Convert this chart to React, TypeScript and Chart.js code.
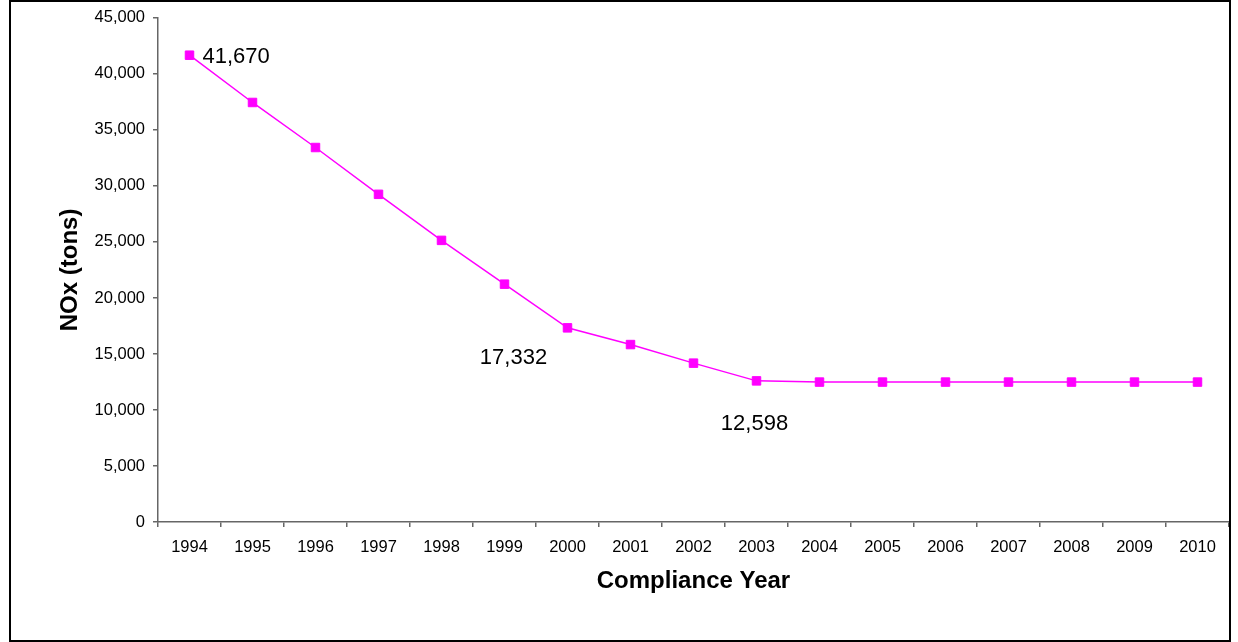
import React, { useEffect, useRef } from "react";
import { Chart, registerables } from "chart.js";

Chart.register(...registerables);

const years: string[] = ["1994", "1995", "1996", "1997", "1998", "1999", "2000", "2001", "2002", "2003", "2004", "2005", "2006", "2007", "2008", "2009", "2010"];
const noxTons: number[] = [41670, 37450, 33430, 29250, 25140, 21230, 17332, 15840, 14180, 12598, 12490, 12490, 12490, 12490, 12490, 12490, 12490];
const yTickValues: number[] = [0, 5000, 10000, 15000, 20000, 25000, 30000, 35000, 40000, 45000];
const labelledIndices: number[] = [0, 6, 9];

const FONT = "'Liberation Sans', Arial, sans-serif";
const LINE_COLOR = "#FF00FF";
const AXIS_COLOR = "#666666";

// label placement relative to the point (style only)
const labelPlacement: Record<number, { dx: number; dy: number; align: CanvasTextAlign }> = {
  0: { dx: 13, dy: 2, align: "left" },
  6: { dx: -54, dy: 30, align: "center" },
  9: { dx: -2, dy: 43, align: "center" },
};

const fmt = (v: number) => v.toLocaleString("en-US");

const labelPlugin = {
  id: "pointLabels",
  afterDatasetsDraw(chart: any) {
    const meta = chart.getDatasetMeta(0);
    const ctx = chart.ctx as CanvasRenderingContext2D;
    ctx.save();
    ctx.fillStyle = "#000";
    ctx.font = `22px ${FONT}`;
    ctx.textBaseline = "middle";
    labelledIndices.forEach((i) => {
      const pt = meta.data[i];
      const p = labelPlacement[i];
      ctx.textAlign = p.align;
      ctx.fillText(fmt(noxTons[i]), pt.x + p.dx, pt.y + p.dy);
    });
    ctx.restore();
  },
};

const framePlugin = {
  id: "frame",
  afterDraw(chart: any) {
    const ctx = chart.ctx as CanvasRenderingContext2D;
    ctx.save();
    ctx.strokeStyle = "#000";
    ctx.lineWidth = 2;
    ctx.strokeRect(10, 1, 1220, 640);
    ctx.restore();
  },
};

export default function App() {
  const canvasRef = useRef<HTMLCanvasElement | null>(null);

  useEffect(() => {
    if (!canvasRef.current) return;
    const chart = new Chart(canvasRef.current, {
      type: "line",
      data: {
        labels: years,
        datasets: [
          {
            data: noxTons,
            borderColor: LINE_COLOR,
            backgroundColor: LINE_COLOR,
            borderWidth: 1.5,
            pointStyle: "rect",
            pointRadius: 6,
            pointBorderWidth: 1,
            pointBackgroundColor: LINE_COLOR,
            pointBorderColor: LINE_COLOR,
            tension: 0,
            fill: false,
          },
        ],
      },
      options: {
        responsive: false,
        animation: false,
        devicePixelRatio: 1,
        layout: { padding: { top: 16, right: 9, left: 0, bottom: 0 } },
        plugins: {
          legend: { display: false },
          tooltip: { enabled: false },
          title: { display: false },
        },
        scales: {
          x: {
            type: "category",
            offset: true,
            grid: {
              offset: true,
              drawOnChartArea: false,
              drawTicks: true,
              tickLength: 5,
              color: AXIS_COLOR,
              lineWidth: 1.5,
            },
            border: { display: true, color: AXIS_COLOR, width: 1.5 },
            ticks: {
              color: "#000",
              font: { family: FONT, size: 16.5 },
              padding: 11,
              maxRotation: 0,
              autoSkip: false,
            },
            title: {
              display: true,
              text: "Compliance Year",
              color: "#000",
              font: { family: FONT, size: 24, weight: "bold" },
              padding: { top: 0, bottom: 46.6 },
            },
            afterFit: (scale: any) => {
              scale.height = 120;
            },
          },
          y: {
            min: 0,
            max: 45000,
            afterBuildTicks: (scale: any) => {
              scale.ticks = yTickValues.map((v) => ({ value: v }));
            },
            grid: {
              drawOnChartArea: false,
              drawTicks: true,
              tickLength: 5,
              color: AXIS_COLOR,
              lineWidth: 1.5,
            },
            border: { display: true, color: AXIS_COLOR, width: 1.5 },
            ticks: {
              color: "#000",
              font: { family: FONT, size: 16.5 },
              padding: 8,
              callback: (v: any) => fmt(Number(v)),
            },
            title: {
              display: true,
              text: "NOx (tons)",
              color: "#000",
              font: { family: FONT, size: 24, weight: "bold" },
              padding: { top: 55.6, bottom: 0 },
            },
            afterFit: (scale: any) => {
              scale.width = 158;
            },
          },
        },
      },
      plugins: [labelPlugin, framePlugin],
    } as any);
    return () => chart.destroy();
  }, []);

  return (
    <div style={{ position: "absolute", left: 0, top: 0, width: 1238, height: 642, background: "#fff" }}>
      <canvas ref={canvasRef} width={1238} height={642} style={{ display: "block", width: 1238, height: 642 }} />
    </div>
  );
}
